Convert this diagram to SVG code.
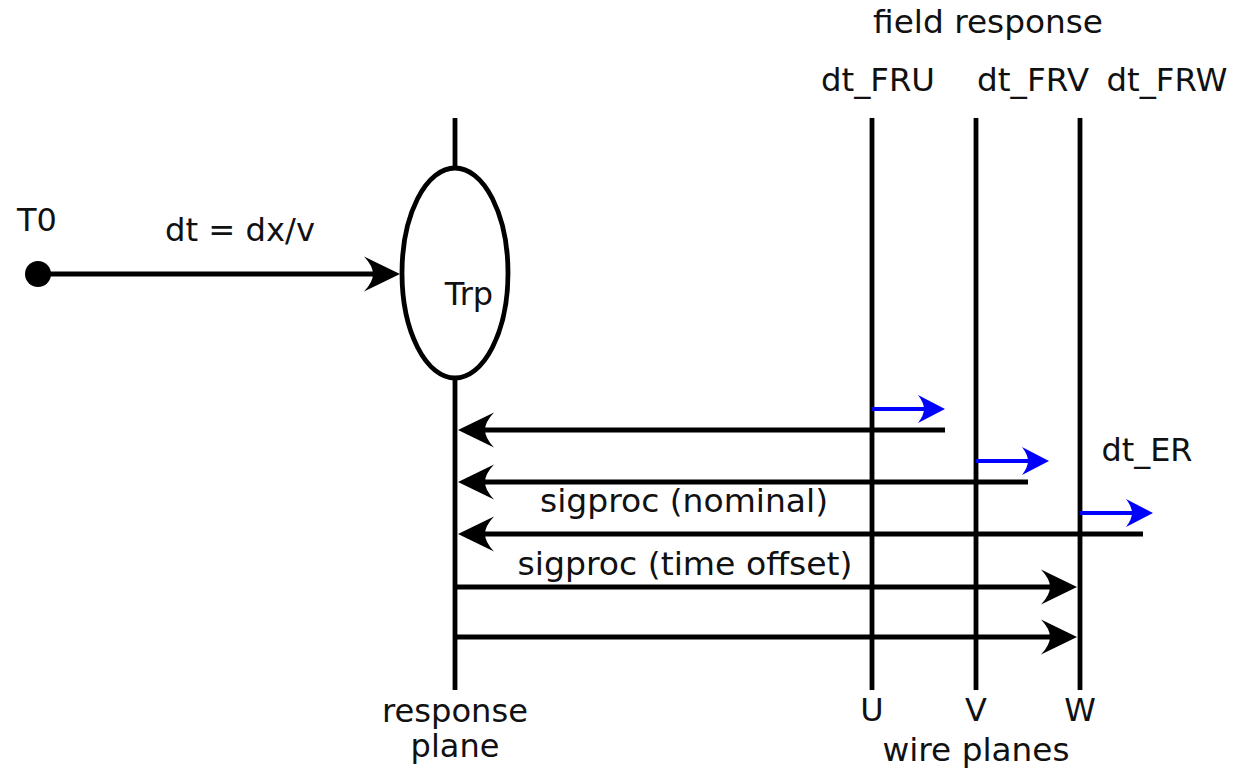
<svg xmlns="http://www.w3.org/2000/svg" width="1236" height="771" viewBox="0 0 1236 771">
<style>
  text { font-family: "DejaVu Sans", "Liberation Sans", sans-serif; font-size: 32px; fill: #111; }
  .ln { stroke: #000; stroke-width: 4.8; fill: none; }
  .bl { stroke: #0000ff; stroke-width: 4.2; fill: none; }
  .mid { text-anchor: middle; }
</style>
<defs>
  <marker id="ah" markerUnits="userSpaceOnUse" markerWidth="44" markerHeight="40" refX="-26" refY="0" orient="auto" viewBox="-38 -20 42 40">
    <path d="M0,0 L-36,-17.5 Q-27,-8 -27,0 Q-27,8 -36,17.5 Z" fill="#000"/>
  </marker>
  <marker id="bh" markerUnits="userSpaceOnUse" markerWidth="32" markerHeight="32" refX="-20" refY="0" orient="auto" viewBox="-28 -16 30 32">
    <path d="M0,0 L-27,-14 Q-21,-6 -21,0 Q-21,6 -27,14 Z" fill="#0000ff"/>
  </marker>
</defs>

<g id="response-plane">
  <line class="ln" x1="455" y1="118" x2="455" y2="690"/>
  <ellipse cx="455" cy="273" rx="53" ry="105" fill="#fff" stroke="#000" stroke-width="4.8"/>
  <text x="469" y="305" class="mid">Trp</text>
  <text x="455" y="722" class="mid" textLength="146" lengthAdjust="spacingAndGlyphs">response</text>
  <text x="455" y="757" class="mid">plane</text>
</g>

<g id="t0">
  <circle cx="38" cy="274" r="13" fill="#000"/>
  <text x="37" y="231" class="mid">T0</text>
</g>

<g id="wire-u">
  <line class="ln" x1="872" y1="118" x2="872" y2="690"/>
  <text x="872" y="721" class="mid">U</text>
</g>
<g id="wire-v">
  <line class="ln" x1="976" y1="118" x2="976" y2="690"/>
  <text x="976" y="721" class="mid">V</text>
</g>
<g id="wire-w">
  <line class="ln" x1="1080" y1="118" x2="1080" y2="690"/>
  <text x="1080" y="721" class="mid">W</text>
</g>

<g id="labels">
  <text x="988" y="33" class="mid" textLength="230" lengthAdjust="spacingAndGlyphs">field response</text>
  <text x="878" y="91" class="mid" textLength="114" lengthAdjust="spacingAndGlyphs">dt_FRU</text>
  <text x="1033" y="91" class="mid" textLength="112" lengthAdjust="spacingAndGlyphs">dt_FRV</text>
  <text x="1167" y="91" class="mid" textLength="121" lengthAdjust="spacingAndGlyphs">dt_FRW</text>
  <text x="1147" y="461" class="mid" textLength="91" lengthAdjust="spacingAndGlyphs">dt_ER</text>
  <text x="976" y="761" class="mid" textLength="187" lengthAdjust="spacingAndGlyphs">wire planes</text>
</g>

<g id="connectors">
  <line class="ln" x1="38" y1="274" x2="374" y2="274" marker-end="url(#ah)"/>
  <text x="240" y="241" class="mid" textLength="150" lengthAdjust="spacingAndGlyphs">dt = dx/v</text>

  <line class="ln" x1="945" y1="430" x2="484" y2="430" marker-end="url(#ah)"/>
  <line class="ln" x1="1028" y1="482" x2="484" y2="482" marker-end="url(#ah)"/>
  <text x="684" y="512" class="mid" textLength="288" lengthAdjust="spacingAndGlyphs">sigproc (nominal)</text>
  <line class="ln" x1="1143" y1="534" x2="484" y2="534" marker-end="url(#ah)"/>
  <text x="685" y="575" class="mid" textLength="335" lengthAdjust="spacingAndGlyphs">sigproc (time offset)</text>
  <line class="ln" x1="455" y1="587" x2="1051" y2="587" marker-end="url(#ah)"/>
  <line class="ln" x1="455" y1="637" x2="1051" y2="637" marker-end="url(#ah)"/>

  <line class="bl" x1="872" y1="409" x2="925" y2="409" marker-end="url(#bh)"/>
  <line class="bl" x1="976" y1="461" x2="1029" y2="461" marker-end="url(#bh)"/>
  <line class="bl" x1="1080" y1="513" x2="1133" y2="513" marker-end="url(#bh)"/>
</g>
</svg>
